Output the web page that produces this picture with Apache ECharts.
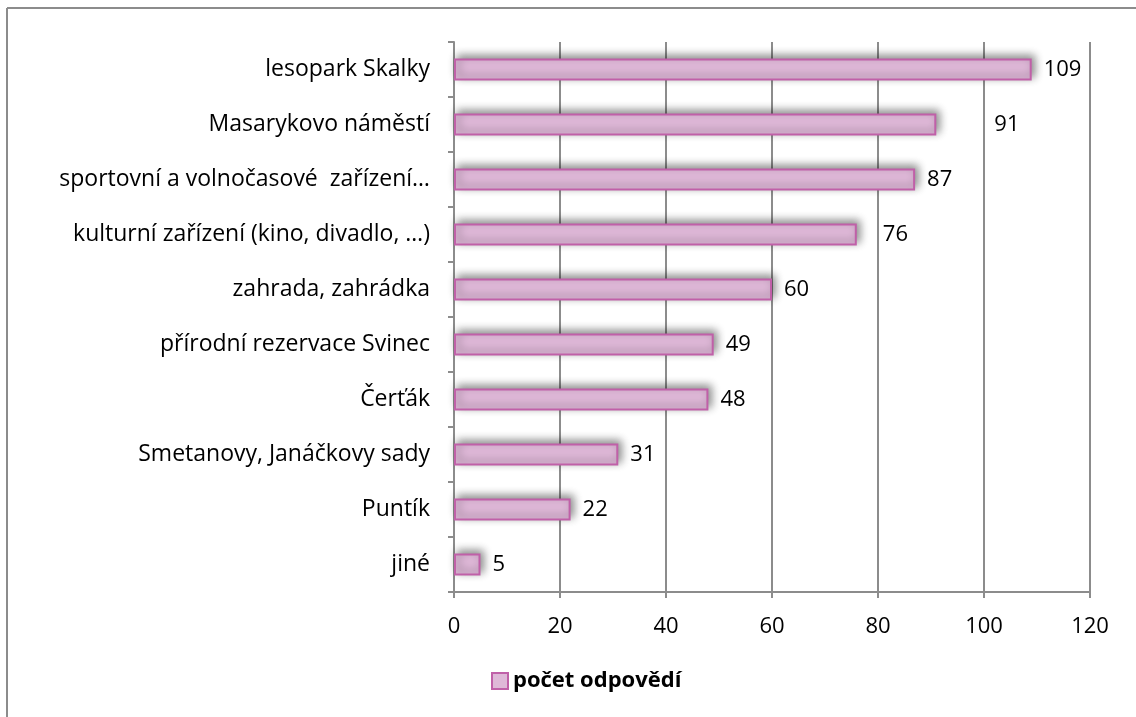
<!DOCTYPE html>
<html>
<head>
<meta charset="utf-8">
<script src="https://cdn.jsdelivr.net/npm/echarts@6/dist/echarts.min.js"></script>
<style>html,body{margin:0;padding:0;background:#fff;}#c{width:1136px;height:717px;}</style>
</head>
<body>
<div id="c"></div>
<script>
const categories = ["lesopark Skalky","Masarykovo náměstí","sportovní a volnočasové  zařízení…","kulturní zařízení (kino, divadlo, …)","zahrada, zahrádka","přírodní rezervace Svinec","Čerťák","Smetanovy, Janáčkovy sady","Puntík","jiné"];
const values = [109,91,87,76,60,49,48,31,22,5];
const labelShift = [0,46,0,14,0,0,0,0,0,0];
const seriesName = "počet odpovědí";
const xTicks = {min:0,max:120,interval:20};

const FONT = "'Open Sans', 'Liberation Sans', sans-serif";
const chart = echarts.init(document.getElementById('c'));
chart.setOption({
  animation:false,
  backgroundColor:'#fff',
  graphic:[
    {type:'line',shape:{x1:7,y1:8,x2:1136,y2:8},style:{stroke:'#8c8c8c',lineWidth:2}},
    {type:'line',shape:{x1:7,y1:8,x2:7,y2:717},style:{stroke:'#8c8c8c',lineWidth:2}}
  ],
  grid:{left:454,right:46,top:42,bottom:125},
  legend:{
    data:[seriesName],left:486,top:665,
    icon:'rect',itemWidth:16,itemHeight:16,itemGap:5,
    textStyle:{fontFamily:FONT,fontSize:22,fontWeight:'bold',color:'#000'}
  },
  xAxis:{
    type:'value',min:xTicks.min,max:xTicks.max,interval:xTicks.interval,
    axisLine:{show:true,lineStyle:{color:'#8c8c8c',width:2}},
    axisTick:{show:true,length:6,lineStyle:{color:'#8c8c8c',width:2}},
    axisLabel:{fontFamily:FONT,fontSize:22,color:'#000',margin:24},
    splitLine:{show:true,lineStyle:{color:'#8c8c8c',width:2}}
  },
  yAxis:{
    type:'category',data:categories,inverse:true,
    axisLine:{show:true,lineStyle:{color:'#8c8c8c',width:2}},
    axisTick:{show:true,length:6,lineStyle:{color:'#8c8c8c',width:2}},
    axisLabel:{fontFamily:FONT,fontSize:23,color:'#000',margin:24}
  },
  series:[{
    name:seriesName,type:'bar',barCategoryGap:'60%',
    data:values.map((v,i)=>({value:v,label:{offset:[labelShift[i],0]}})),
    itemStyle:{color:'#dfb8d8',borderColor:'#c060a8',borderWidth:2,
      shadowColor:'rgba(0,0,0,0.45)',shadowBlur:8,shadowOffsetX:3,shadowOffsetY:-3},
    label:{show:true,position:'right',distance:12,fontFamily:FONT,fontSize:22,color:'#000'}
  }]
});
</script>
</body>
</html>
